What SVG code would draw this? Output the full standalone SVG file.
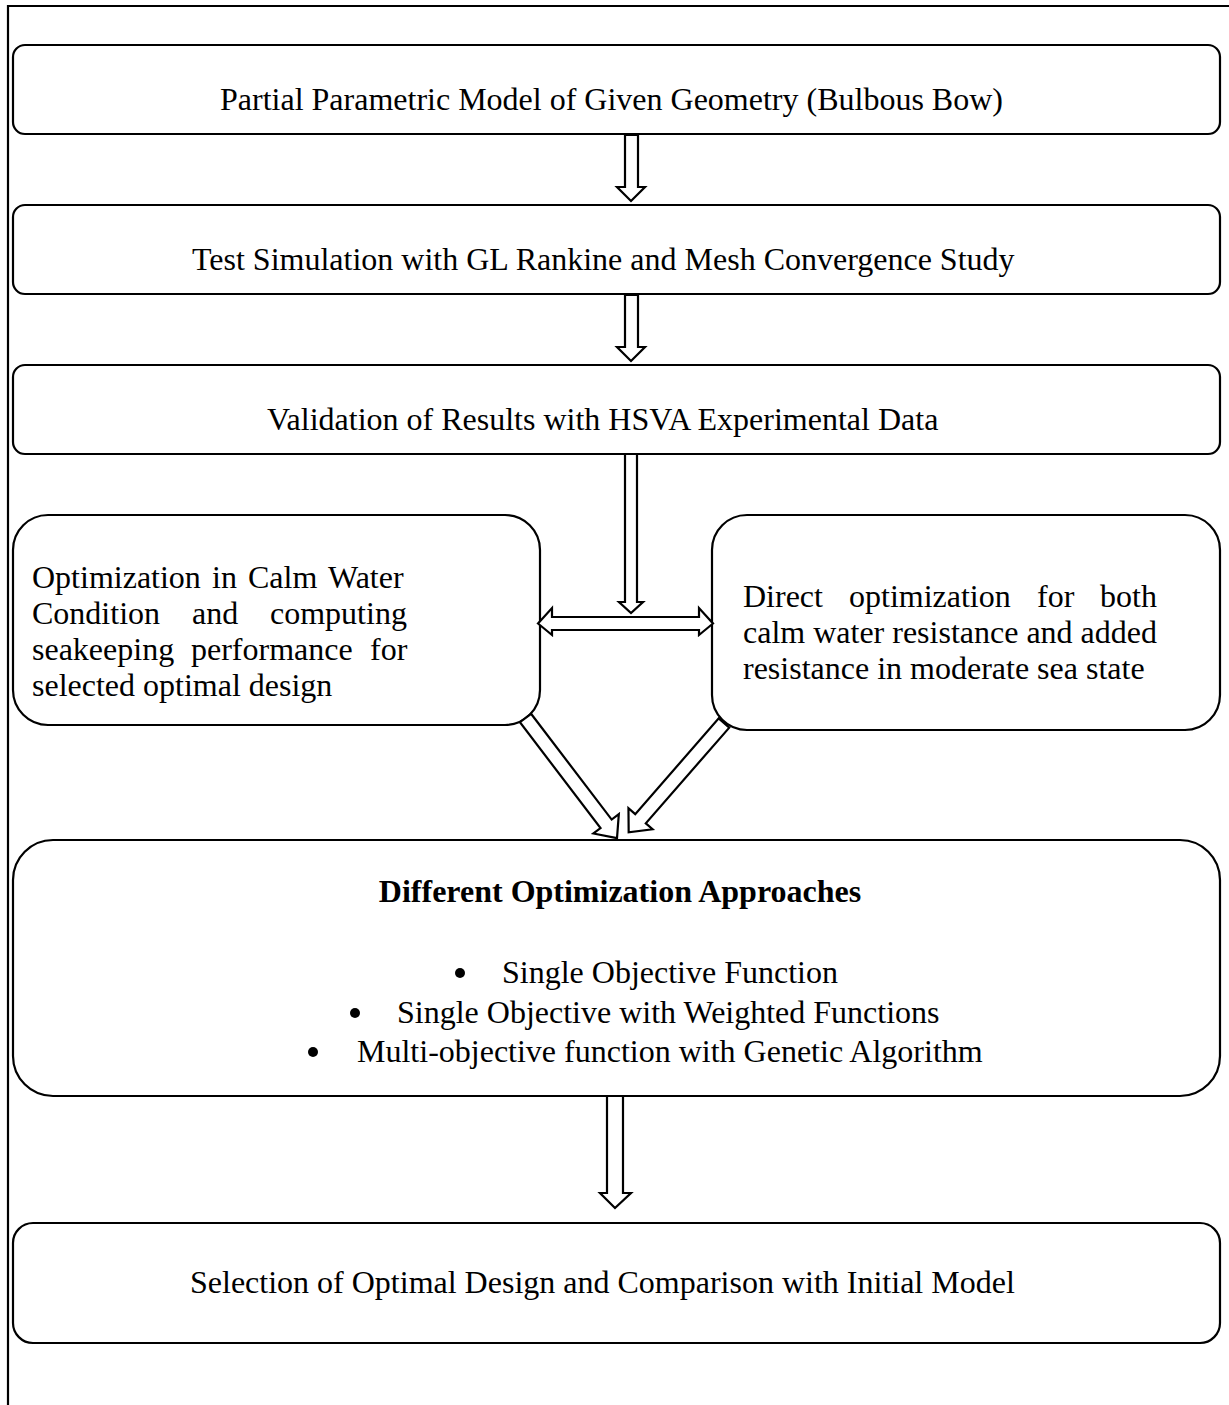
<svg xmlns="http://www.w3.org/2000/svg" width="1229" height="1405" viewBox="0 0 1229 1405">
<style>
.box{fill:#fff;stroke:#000;stroke-width:2.2}
.arr{fill:#fff;stroke:#000;stroke-width:2.2;stroke-linejoin:miter}
.frame{fill:none;stroke:#000;stroke-width:2.2}
text{font-family:"Liberation Serif","Times New Roman",serif;font-size:32px;fill:#000}
.b{font-weight:bold}
</style>
<rect width="1229" height="1405" fill="#fff"/>
<path class="frame" d="M8,1405 V6 H1229"/>
<g id="n1"><rect class="box" x="13" y="45" width="1207" height="89" rx="12"/>
<text x="220" y="110">Partial Parametric Model of Given Geometry (Bulbous Bow)</text></g>
<g id="n2"><rect class="box" x="13" y="205" width="1207" height="89" rx="12"/>
<text x="192" y="270">Test Simulation with GL Rankine and Mesh Convergence Study</text></g>
<g id="n3"><rect class="box" x="13" y="365" width="1207" height="89" rx="12"/>
<text x="267" y="430">Validation of Results with HSVA Experimental Data</text></g>
<g id="n4"><rect class="box" x="13" y="515" width="527" height="210" rx="35"/>
<text y="588"><tspan x="32">Optimization</tspan><tspan x="212">in</tspan><tspan x="248">Calm</tspan><tspan x="328">Water</tspan></text>
<text y="624"><tspan x="32">Condition</tspan><tspan x="192">and</tspan><tspan x="270">computing</tspan></text>
<text y="660"><tspan x="32">seakeeping</tspan><tspan x="191">performance</tspan><tspan x="370">for</tspan></text>
<text x="32" y="696">selected optimal design</text></g>
<g id="n5"><rect class="box" x="712" y="515" width="508" height="215" rx="35"/>
<text y="607"><tspan x="743">Direct</tspan><tspan x="849">optimization</tspan><tspan x="1037">for</tspan><tspan x="1100">both</tspan></text>
<text x="743" y="643">calm water resistance and added</text>
<text x="743" y="679">resistance in moderate sea state</text></g>
<g id="n6"><rect class="box" x="13" y="840" width="1207" height="256" rx="40"/>
<text class="b" x="620" y="902" text-anchor="middle">Different Optimization Approaches</text>
<circle cx="460" cy="973" r="5"/><text x="502" y="983">Single Objective Function</text>
<circle cx="355" cy="1013" r="5"/><text x="397" y="1023">Single Objective with Weighted Functions</text>
<circle cx="313" cy="1052" r="5"/><text x="357" y="1062">Multi-objective function with Genetic Algorithm</text></g>
<g id="n7"><rect class="box" x="13" y="1223" width="1207" height="120" rx="20"/>
<text x="190" y="1293">Selection of Optimal Design and Comparison with Initial Model</text></g>
<g id="connectors">
<polygon class="arr" points="625,135 638,135 638,187 645,187 631,201 617,187 625,187"/>
<polygon class="arr" points="625,295 638,295 638,347 645,347 631,361 617,347 625,347"/>
<polygon class="arr" points="625,454 637,454 637,602 643,602 631,613 619,602 625,602"/>
<polygon class="arr" points="538,623.5 552,608 552,617 699,617 699,608 713,623.5 699,635 699,630 552,630 552,635"/>
<polygon class="arr" transform="translate(525.5,718) rotate(52.7)" points="0,-7 133,-7 133,-16 151,0 133,16 133,7 0,7"/>
<polygon class="arr" transform="translate(724,723) rotate(131.1)" points="0,-7 127,-7 127,-16 145,0 127,16 127,7 0,7"/>
<polygon class="arr" points="607,1096 623,1096 623,1193 631,1193 615,1208 600,1193 607,1193"/>
</g>
</svg>
